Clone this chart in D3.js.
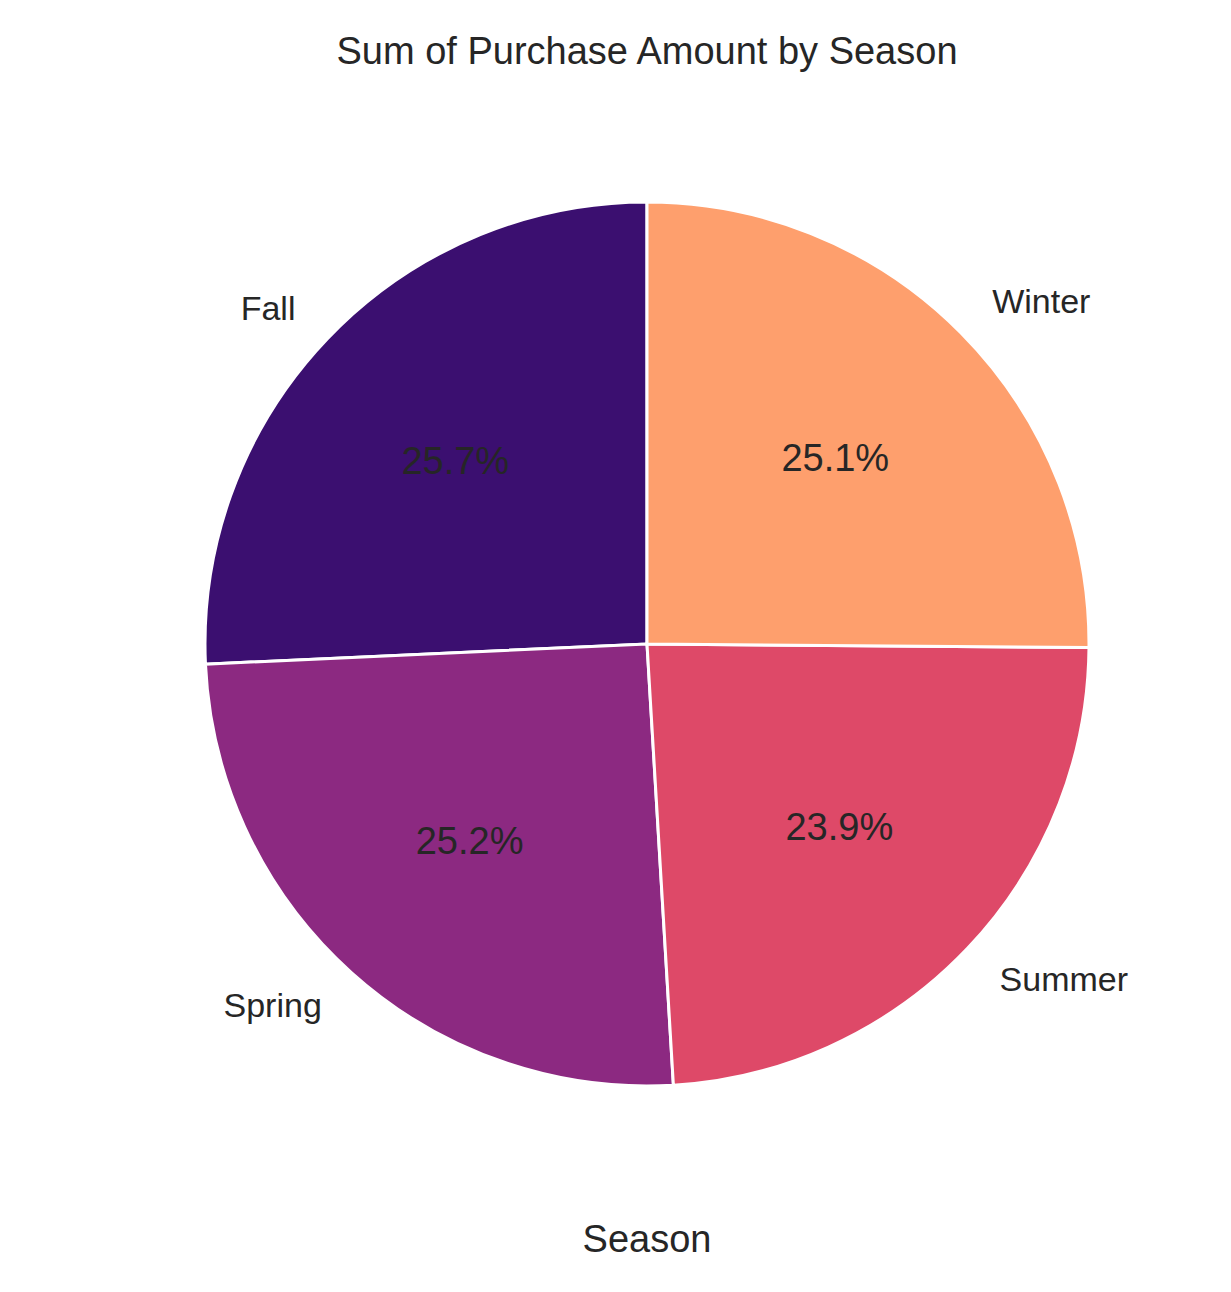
<!DOCTYPE html>
<html>
<head>
<meta charset="utf-8">
<script src="https://cdn.jsdelivr.net/npm/d3@7"></script>
<style>
body { margin: 0; background: #fff; }
text { font-family: "Liberation Sans", Arial, sans-serif; fill: #262626; }
</style>
</head>
<body>
<svg id="chart" width="1231" height="1292"></svg>
<script>
// data
const seasons = ["Fall", "Spring", "Summer", "Winter"];
const shares = [25.7, 25.2, 23.9, 25.1];
const colors = ["#3b0f70", "#8c2981", "#de4968", "#fe9f6d"];

const svg = d3.select("#chart");
const cx = 647, cy = 644, r = 442;
const g = svg.append("g").attr("transform", `translate(${cx},${cy})`);

// counterclockwise from 12 o'clock, like matplotlib startangle=90
const pie = d3.pie().sort(null).startAngle(0).endAngle(-2 * Math.PI);
const arcs = pie(shares);
const arc = d3.arc().innerRadius(0).outerRadius(r);

g.selectAll("path").data(arcs).enter().append("path")
  .attr("d", arc)
  .attr("fill", (d, i) => colors[i])
  .attr("stroke", "#fff")
  .attr("stroke-width", 3);

function pos(d, k) {
  const a = (d.startAngle + d.endAngle) / 2;
  return [k * r * Math.sin(a), -k * r * Math.cos(a)];
}

// category labels
g.selectAll("text.lab").data(arcs).enter().append("text")
  .attr("class", "lab")
  .attr("x", d => pos(d, 1.1)[0])
  .attr("y", d => pos(d, 1.1)[1])
  .attr("dy", "0.35em")
  .attr("text-anchor", d => pos(d, 1.1)[0] < 0 ? "end" : "start")
  .style("font-size", "34px")
  .text((d, i) => seasons[i]);

// percentages
g.selectAll("text.pct").data(arcs).enter().append("text")
  .attr("class", "pct")
  .attr("x", d => pos(d, 0.6)[0])
  .attr("y", d => pos(d, 0.6)[1])
  .attr("dy", "0.35em")
  .attr("text-anchor", "middle")
  .style("font-size", "38px")
  .text(d => d.data.toFixed(1) + "%");

svg.append("text").attr("x", 647).attr("y", 64)
  .attr("text-anchor", "middle").style("font-size", "38px")
  .text("Sum of Purchase Amount by Season");

svg.append("text").attr("x", 647).attr("y", 1252)
  .attr("text-anchor", "middle").style("font-size", "38px")
  .text("Season");
</script>
</body>
</html>
